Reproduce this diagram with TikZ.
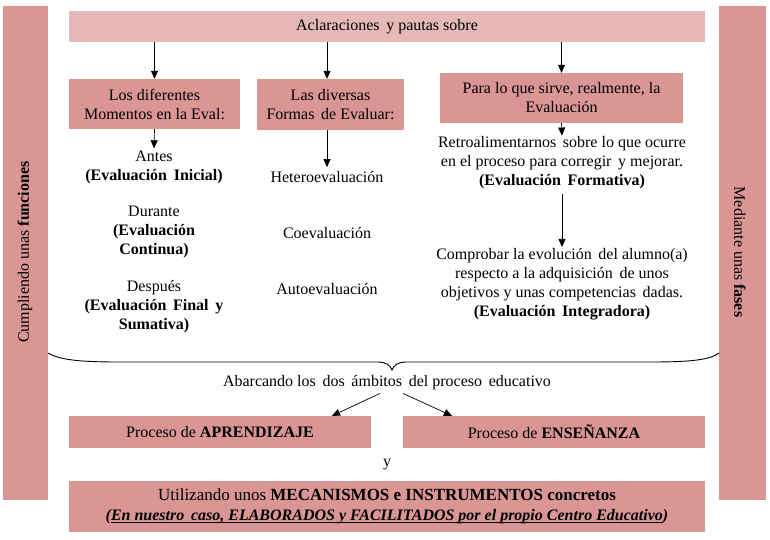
\documentclass[tikz,border=0pt]{standalone}
\usepackage{fontspec}
\setmainfont{Liberation Serif}
\usetikzlibrary{arrows.meta}
\definecolor{boxpink}{RGB}{217,150,148}
\definecolor{lightpink}{RGB}{230,185,184}
\newcommand\myul[1]{\setbox0\hbox{#1}\rlap{\rule[-2.6pt]{\wd0}{1.4pt}}\box0}
\begin{document}
\begin{tikzpicture}[x=1pt,y=-1pt,
  every node/.style={font=\fontsize{16}{19}\selectfont, inner sep=0pt},
  bar/.style={fill=boxpink, draw=none, minimum width=45pt, minimum height=494pt},
  pbox/.style={fill=boxpink, draw=none, align=center},
  lbox/.style={fill=lightpink, draw=none, align=center},
  txt/.style={align=center},
  arr/.style={-{Triangle[length=8pt,width=7pt]}, line width=0.7pt},
  brace/.style={line width=0.9pt}
]
\useasboundingbox (0,0) rectangle (770,539);
% side bars
\node[bar] (lbar) at (25.5,253) {};
\node[bar, minimum width=47pt] (rbar) at (742.5,253) {};
\node[rotate=90] (ltext) at (25,252) {Cumpliendo unas \textbf{funciones}};
\node[rotate=-90] (rtext) at (740,252) {Mediante unas \textbf{fases}};
% top
\node[lbox, minimum width=636pt, minimum height=31pt] (top) at (387,26.5) {Aclaraciones\, y pautas sobre};
% second row boxes
\node[pbox, minimum width=171pt, minimum height=50pt] (mom) at (154.5,104) {Los diferentes\\Momentos en la Eval:};
\node[pbox, minimum width=147pt, minimum height=51pt] (for) at (330.5,104.5) {Las diversas\\Formas\, de Evaluar:};
\node[pbox, minimum width=243pt, minimum height=50pt] (para) at (561.5,98) {Para lo que sirve, realmente, la\\Evaluación};
\draw[arr] (top.south -| mom.north) -- (mom.north);
\draw[arr] ([xshift=-3.5pt]top.south -| for.north) -- ([xshift=-3.5pt]for.north);
\draw[arr] (top.south -| para.north) -- (para.north);
% column 1
\node[txt] (antes) at (154,167) {Antes\\\textbf{(Evaluación\, Inicial)}};
\node[txt] (durante) at (154,232) {Durante\\\textbf{(Evaluación}\\\textbf{Continua)}};
\node[txt] (despues) at (154,307) {Después\\\textbf{(Evaluación\, Final\, y}\\\textbf{Sumativa)}};
\draw[arr] (mom.south) -- ([yshift=2pt]antes.north);
% column 2
\node[txt] (hetero) at (327,177) {Heteroevaluación};
\node[txt] (coev) at (327,233) {Coevaluación};
\node[txt] (autoev) at (327,289) {Autoevaluación};
\draw[arr] ([xshift=-3.5pt]for.south) -- ([yshift=4pt]hetero.north);
% column 3
\node[txt] (retro) at (562,163) {Retroalimentarnos\, sobre lo que ocurre\\en el proceso para corregir\, y mejorar.\\\textbf{(Evaluación\, Formativa)}};
\node[txt] (comp) at (562,284) {Comprobar la evolución\, del alumno(a)\\respecto a la adquisición\, de unos\\objetivos y unas competencias\, dadas.\\\textbf{(Evaluación\, Integradora)}};
\draw[arr] (para.south) -- ([yshift=1pt]retro.north);
\draw[arr] ([yshift=-5pt]retro.south) -- ([yshift=1pt]comp.north);
% brace
\coordinate (bl) at (48,353);
\coordinate (br) at (719,353);
\coordinate (btip) at (392,370);
\draw[brace] (bl) .. controls (60,360) and (80,362) .. (120,362) -- (378,362)
  .. controls (386,362) and (390,365) .. (btip)
  .. controls (394,365) and (398,362) .. (406,362) -- (650,362)
  .. controls (690,362) and (710,360) .. (br);
\node[txt] (ab) at (387,383) {Abarcando los\, dos\, ámbitos\, del proceso\, educativo};
% process boxes
\node[pbox, minimum width=302pt, minimum height=32pt] (apr) at (220,432) {Proceso de \textbf{APRENDIZAJE}};
\node[pbox, minimum width=302pt, minimum height=32pt] (ens) at (554,432) {Proceso de \textbf{ENSEÑANZA}};
\draw[arr] ([xshift=-7pt,yshift=-3pt]ab.south) -- ([xshift=112pt]apr.north);
\draw[arr] ([xshift=16pt,yshift=-3pt]ab.south) -- ([xshift=-102pt]ens.north);
\node[txt] (y) at (387,465) {y};
\node[pbox, minimum width=636pt, minimum height=51pt] (bot) at (387,506.5) {{\fontsize{17}{20}\selectfont Utilizando unos \textbf{MECANISMOS e INSTRUMENTOS concretos}}\\[1pt]
\textbf{\textit{(\myul{En nuestro\, caso, ELABORADOS y FACILITADOS por el propio Centro Educativo})}}};
\end{tikzpicture}
\end{document}
